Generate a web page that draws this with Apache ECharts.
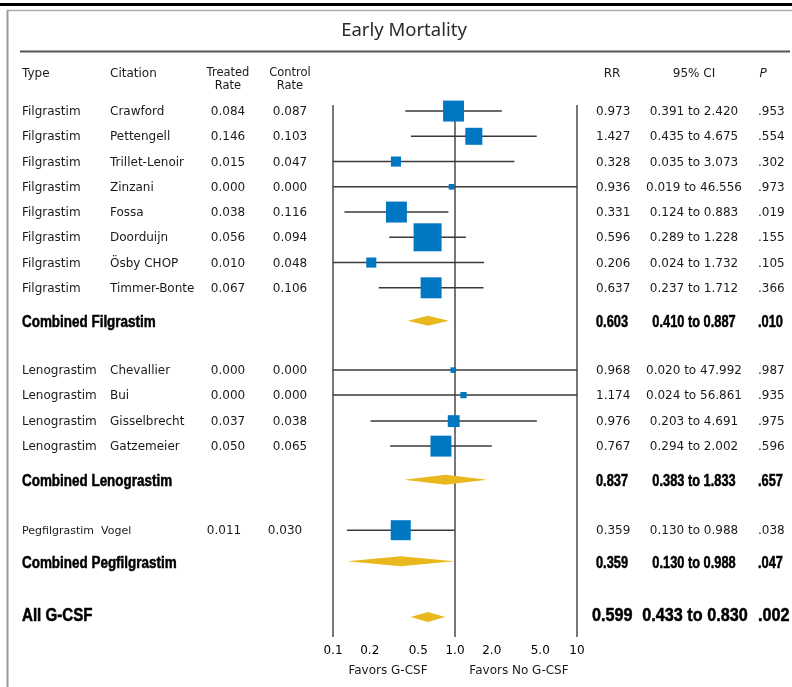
<!DOCTYPE html>
<html>
<head>
<meta charset="utf-8">
<title>Early Mortality</title>
<script src="https://cdn.jsdelivr.net/npm/echarts@6/dist/echarts.min.js"></script>
<style>
html, body { margin: 0; padding: 0; background: #fff; }
#chart { width: 792px; height: 687px; }
</style>
</head>
<body>
<div id="chart"></div>
<script>
// study rows
var types = ['Filgrastim', 'Filgrastim', 'Filgrastim', 'Filgrastim', 'Filgrastim', 'Filgrastim', 'Filgrastim', 'Filgrastim',
    'Lenograstim', 'Lenograstim', 'Lenograstim', 'Lenograstim', 'Pegfilgrastim'];
var citations = ['Crawford', 'Pettengell', 'Trillet-Lenoir', 'Zinzani', 'Fossa', 'Doorduijn', 'Ösby CHOP', 'Timmer-Bonte',
    'Chevallier', 'Bui', 'Gisselbrecht', 'Gatzemeier', 'Vogel'];
var treatedRate = ['0.084', '0.146', '0.015', '0.000', '0.038', '0.056', '0.010', '0.067', '0.000', '0.000', '0.037', '0.050', '0.011'];
var controlRate = ['0.087', '0.103', '0.047', '0.000', '0.116', '0.094', '0.048', '0.106', '0.000', '0.000', '0.038', '0.065', '0.030'];
var rr = [0.973, 1.427, 0.328, 0.936, 0.331, 0.596, 0.206, 0.637, 0.968, 1.174, 0.976, 0.767, 0.359];
var ciLow = [0.391, 0.435, 0.035, 0.019, 0.124, 0.289, 0.024, 0.237, 0.020, 0.024, 0.203, 0.294, 0.130];
var ciHigh = [2.420, 4.675, 3.073, 46.556, 0.883, 1.228, 1.732, 1.712, 47.992, 56.861, 4.691, 2.002, 0.988];
var pValues = ['.953', '.554', '.302', '.973', '.019', '.155', '.105', '.366', '.987', '.935', '.975', '.596', '.038'];
var weights = [56, 37, 13, 4, 56, 100, 13, 56, 4, 5, 18, 56, 51];

// pooled rows
var pooledLabels = ['Combined Filgrastim', 'Combined Lenograstim', 'Combined Pegfilgrastim', 'All G-CSF'];
var pooledRR = [0.603, 0.837, 0.359, 0.599];
var pooledLow = [0.410, 0.383, 0.130, 0.433];
var pooledHigh = [0.887, 1.833, 0.988, 0.830];
var pooledP = ['.010', '.657', '.047', '.002'];

// axis
var tickValues = [0.1, 0.2, 0.5, 1, 2, 5, 10];
var tickLabels = ['0.1', '0.2', '0.5', '1.0', '2.0', '5.0', '10'];

// layout: vertical slot of each row (row units)
var studySlots = [0, 1, 2, 3, 4, 5, 6, 7, 10.26, 11.25, 12.28, 13.27, 16.6];
var pooledSlots = [8.3, 14.6, 17.83, 20.04];

var chartDom = document.getElementById('chart');
var myChart = echarts.init(chartDom);

var FONT = '"DejaVu Sans", sans-serif';
var BOLD = '"Liberation Sans", Arial, sans-serif';
var COL = { type: 22, cite: 110, treated: 228, control: 290, rr: 596, ci: 694, p: 758 };

function lg(v) {
    return Math.log10(v);
}
function clampLog(v) {
    return Math.max(-1, Math.min(1, lg(v)));
}
// text element; sx squeezes the glyphs horizontally (condensed look)
function txt(text, x, y, font, align, color, sx, heavy) {
    var st = {
        text: text, x: 0, y: 0, font: font, fill: color || '#1a1a1a',
        textAlign: align, align: align, textVerticalAlign: 'middle', verticalAlign: 'middle'
    };
    if (heavy) {
        st.stroke = color || '#000';
        st.lineWidth = 0.5;
    }
    return { type: 'text', x: x, y: y, scaleX: sx || 1, style: st };
}

var studyData = [];
for (var i = 0; i < rr.length; i++) {
    studyData.push([lg(rr[i]), studySlots[i], i]);
}
var pooledData = [];
for (var j = 0; j < pooledRR.length; j++) {
    pooledData.push([lg(pooledRR[j]), pooledSlots[j], j]);
}

function renderStudy(params, api) {
    var i = api.value(2);
    var c = api.coord([api.value(0), api.value(1)]);
    var y = c[1];
    var xl = api.coord([clampLog(ciLow[i]), api.value(1)])[0];
    var xh = api.coord([clampLog(ciHigh[i]), api.value(1)])[0];
    var side = 2.8 * Math.sqrt(weights[i]);
    var small = types[i] === 'Pegfilgrastim';
    var f = '12px ' + FONT;
    var fs = (small ? '11px ' : '12px ') + FONT;
    var ty = y + 1;
    return {
        type: 'group',
        children: [
            { type: 'line', shape: { x1: xl, y1: y, x2: xh, y2: y }, style: { stroke: '#3a3a3a', lineWidth: 1.5 } },
            { type: 'rect', shape: { x: c[0] - side / 2, y: y - side / 2, width: side, height: side }, style: { fill: '#0077c2' } },
            txt(types[i], COL.type, ty, fs, 'left'),
            txt(citations[i], small ? 101 : COL.cite, ty, fs, 'left'),
            txt(treatedRate[i], small ? 224 : COL.treated, ty, f, 'center'),
            txt(controlRate[i], small ? 285 : COL.control, ty, f, 'center'),
            txt(rr[i].toFixed(3), COL.rr, ty, f, 'left'),
            txt(ciLow[i].toFixed(3) + ' to ' + ciHigh[i].toFixed(3), COL.ci, ty, f, 'center'),
            txt(pValues[i], COL.p, ty, f, 'left')
        ]
    };
}

function renderPooled(params, api) {
    var j = api.value(2);
    var c = api.coord([api.value(0), api.value(1)]);
    var y = c[1];
    var xl = api.coord([clampLog(pooledLow[j]), api.value(1)])[0];
    var xh = api.coord([clampLog(pooledHigh[j]), api.value(1)])[0];
    var h = 10;
    var last = j === pooledLabels.length - 1;
    var f = 'bold ' + (last ? '18px ' : '16px ') + BOLD;
    var nsx = last ? 0.9 : 0.8;
    var ty = y + (last ? -1 : 2);
    return {
        type: 'group',
        children: [
            {
                type: 'polygon',
                shape: { points: [[xl, y], [c[0], y - h / 2], [xh, y], [c[0], y + h / 2]] },
                style: { fill: '#e8b81e' }
            },
            txt(pooledLabels[j], COL.type, ty, f, 'left', '#000', 0.84, true),
            txt(pooledRR[j].toFixed(3), last ? 592 : COL.rr, ty, f, 'left', '#000', nsx, true),
            txt(pooledLow[j].toFixed(3) + ' to ' + pooledHigh[j].toFixed(3), last ? 695 : COL.ci, ty, f, 'center', '#000', nsx, true),
            txt(pooledP[j], COL.p, ty, f, 'left', '#000', nsx, true)
        ]
    };
}

var header = [
    txt('Type', 22, 74, '12px ' + FONT, 'left'),
    txt('Citation', 110, 74, '12px ' + FONT, 'left'),
    txt('Treated', 228, 73, '11.5px ' + FONT, 'center'),
    txt('Rate', 228, 86, '11.5px ' + FONT, 'center'),
    txt('Control', 290, 73, '11.5px ' + FONT, 'center'),
    txt('Rate', 290, 86, '11.5px ' + FONT, 'center'),
    txt('RR', 612, 74, '12px ' + FONT, 'center'),
    txt('95% CI', 694, 74, '12px ' + FONT, 'center'),
    txt('P', 763, 74, 'italic 12px ' + FONT, 'center'),
    txt('Early Mortality', 404, 31, '18.5px "Noto Sans", sans-serif', 'center', '#2a2a2a'),
    txt('Favors G-CSF', 388, 671, '12px ' + FONT, 'center'),
    txt('Favors No G-CSF', 519, 671, '12px ' + FONT, 'center'),
    { type: 'rect', shape: { x: 0, y: 3, width: 792, height: 3 }, style: { fill: '#000' } },
    { type: 'line', shape: { x1: 7, y1: 10.5, x2: 792, y2: 10.5 }, style: { stroke: '#aaa', lineWidth: 1.5 } },
    { type: 'line', shape: { x1: 7.5, y1: 10, x2: 7.5, y2: 687 }, style: { stroke: '#999', lineWidth: 2 } },
    { type: 'line', shape: { x1: 20, y1: 51.5, x2: 790, y2: 51.5 }, style: { stroke: '#555', lineWidth: 2 } }
];

var option = {
    animation: false,
    backgroundColor: '#fff',
    grid: { left: 333, right: 215, top: 105, bottom: 50 },
    xAxis: {
        type: 'value',
        min: -1,
        max: 1,
        interval: 1,
        axisLine: { show: false },
        axisTick: { show: false },
        splitLine: { show: true, lineStyle: { color: '#4a4a4a', width: 1.5 } },
        axisLabel: {
            customValues: tickValues.map(lg),
            margin: 8,
            color: '#000',
            fontSize: 12,
            fontFamily: 'DejaVu Sans',
            formatter: function (v) {
                var best = 0;
                for (var k = 1; k < tickValues.length; k++) {
                    if (Math.abs(lg(tickValues[k]) - v) < Math.abs(lg(tickValues[best]) - v)) best = k;
                }
                return tickLabels[best];
            }
        }
    },
    yAxis: {
        type: 'value',
        inverse: true,
        min: -0.24,
        max: 20.83,
        show: false
    },
    graphic: header,
    series: [
        { type: 'custom', renderItem: renderStudy, data: studyData, encode: { x: 0, y: 1 }, z: 3 },
        { type: 'custom', renderItem: renderPooled, data: pooledData, encode: { x: 0, y: 1 }, z: 3 }
    ]
};

option && myChart.setOption(option);
</script>
</body>
</html>
